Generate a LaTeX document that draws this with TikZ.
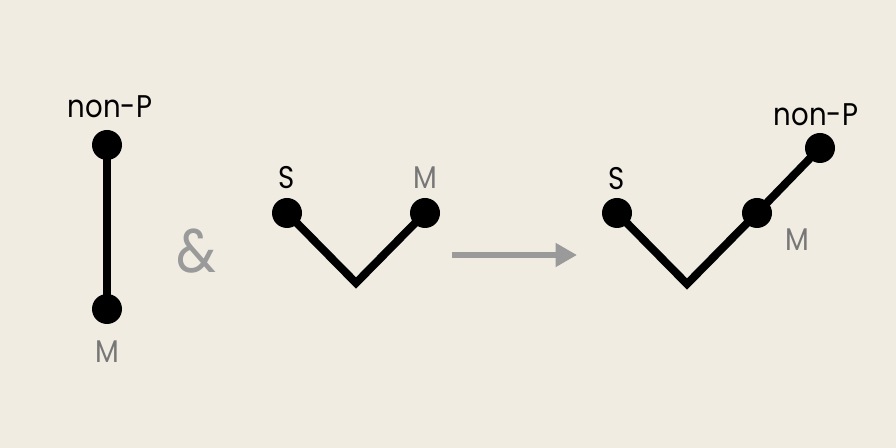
\documentclass[tikz,border=0pt]{standalone}
\usepackage{fontspec}
\setmainfont{Poppins}[FakeStretch=0.88]
\usetikzlibrary{arrows.meta}
\definecolor{bg}{HTML}{F0ECE1}
\definecolor{lbl}{HTML}{777777}
\definecolor{arr}{HTML}{9A9A9A}
\begin{document}
\begin{tikzpicture}[x=0.75pt,y=-0.75pt,
  dot/.style={circle,fill=black,inner sep=0pt,minimum size=22.5pt},
  edge/.style={line width=6pt,black,line join=miter},
  blk/.style={font=\fontsize{23.5}{26}\selectfont,text=black,inner sep=0pt},
  gry/.style={font=\fontsize{23.5}{26}\selectfont,text=lbl,inner sep=0pt}]
\fill[bg] (0,0) rectangle (896,448);
\useasboundingbox (0,0) rectangle (896,448);
% left
\node[dot] (a1) at (107,145) {};
\node[dot] (a2) at (107,309) {};
\draw[edge] (a1.center) -- (a2.center);
\node[blk] (t1) at (110,107) {non-P};
\node[gry] (t2) at (107,352) {M};
\node[font=\fontsize{46}{50}\selectfont,text=arr,inner sep=0pt] (amp) at (196,251) {\&};
% middle
\node[dot] (b1) at (287,213) {};
\node[dot] (b3) at (425,213) {};
\coordinate (b2) at (356,283);
\draw[edge] (b1.center) -- (b2) -- (b3.center);
\node[blk] (t3) at (287,178) {S};
\node[gry] (t4) at (425,178) {M};
% arrow
\coordinate (p1) at (452,255);
\coordinate (p2) at (577,255);
\draw[arr,line width=4pt,-{Triangle[length=16pt,width=17pt]}] (p1) -- (p2);
% right
\node[dot] (c1) at (617,213) {};
\coordinate (c2) at (687,284);
\node[dot] (c3) at (757,213) {};
\node[dot] (c4) at (820,148) {};
\draw[edge] (c1.center) -- (c2) -- (c3.center) -- (c4.center);
\node[blk] (t5) at (617,179) {S};
\node[blk] (t6) at (816,115) {non-P};
\node[gry] (t7) at (797,240) {M};
\end{tikzpicture}
\end{document}
